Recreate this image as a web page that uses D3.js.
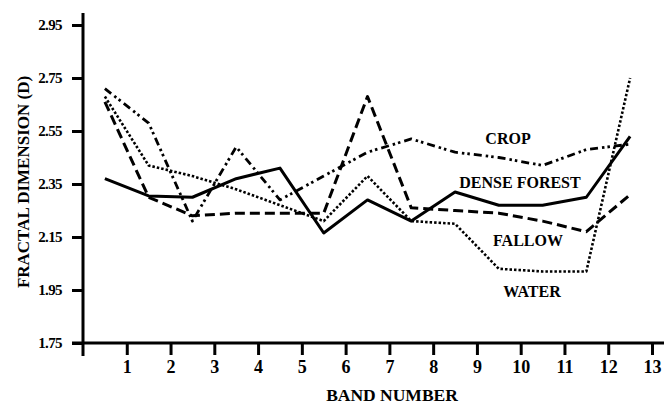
<!DOCTYPE html>
<html lang="en">
    <head>
        <meta charset="utf-8">
        <title>Fractal dimension by band</title>
        <script type="text/javascript" src="https://d3js.org/d3.v7.min.js"></script>
        <style type="text/css">
            body {
                margin: 0;
                background: #fff;
            }
            svg text {
                font-family: 'Liberation Serif', 'Times New Roman', serif;
                font-weight: bold;
                fill: #000;
            }
        </style>
    </head>
    <body>
        <script type="text/javascript">

            // data, points sit at band mid positions
            const bandPos = [0.5, 1.5, 2.5, 3.5, 4.5, 5.5, 6.5, 7.5, 8.5, 9.5, 10.5, 11.5, 12.5];
            const crop = [2.71, 2.58, 2.21, 2.49, 2.29, 2.38, 2.47, 2.52, 2.47, 2.45, 2.42, 2.48, 2.50];
            const denseForest = [2.37, 2.305, 2.30, 2.37, 2.41, 2.165, 2.29, 2.21, 2.32, 2.27, 2.27, 2.30, 2.53];
            const fallow = [2.66, 2.30, 2.23, 2.24, 2.24, 2.24, 2.68, 2.26, 2.25, 2.24, 2.21, 2.17, 2.31];
            const water = [2.68, 2.42, 2.38, 2.33, 2.27, 2.21, 2.38, 2.21, 2.20, 2.03, 2.02, 2.02, 2.75];

            const xTicks = [1, 2, 3, 4, 5, 6, 7, 8, 9, 10, 11, 12, 13];
            const yTicks = [1.75, 1.95, 2.15, 2.35, 2.55, 2.75, 2.95];

            const series = [
                {name: "CROP", values: crop, dash: "8,4,2.5,3,2.5,4", width: 2.8, lx: 508, ly: 144},
                {name: "DENSE FOREST", values: denseForest, dash: null, width: 3, lx: 520, ly: 188},
                {name: "FALLOW", values: fallow, dash: "10,5", width: 3, lx: 528, ly: 246},
                {name: "WATER", values: water, dash: "2.5,2", width: 2.6, lx: 532, ly: 297}
            ];

            const W = 666, H = 404;

            const svg = d3.select("body")
                .append("svg")
                .attr("width", W)
                .attr("height", H);

            const xScale = d3.scaleLinear().domain([0, 13]).range([83, 652]);
            const yScale = d3.scaleLinear().domain([1.75, 2.95]).range([343, 25]);

            // y axis
            const yAxis = d3.axisLeft(yScale)
                .tickValues(yTicks)
                .tickFormat(d3.format(".2f"))
                .tickSize(11)
                .tickSizeOuter(0)
                .tickPadding(10);

            const gy = svg.append("g")
                .attr("transform", "translate(" + xScale(0) + ",0)")
                .call(yAxis)
                .attr("font-family", null)
                .attr("font-size", null);
            gy.select(".domain").remove();
            gy.selectAll(".tick line").attr("stroke", "#000").attr("stroke-width", 3);
            gy.selectAll(".tick text")
                .style("font-size", "15px")
                .style("letter-spacing", "-0.6px");

            svg.append("line")
                .attr("x1", xScale(0)).attr("x2", xScale(0))
                .attr("y1", 13).attr("y2", 356)
                .attr("stroke", "#000").attr("stroke-width", 3);

            // x axis
            const xAxis = d3.axisBottom(xScale)
                .tickValues(xTicks)
                .tickFormat(d3.format("d"))
                .tickSize(12)
                .tickSizeOuter(0)
                .tickPadding(5);

            const gx = svg.append("g")
                .attr("transform", "translate(0," + yScale(1.75) + ")")
                .call(xAxis)
                .attr("font-family", null)
                .attr("font-size", null);
            gx.select(".domain").remove();
            gx.selectAll(".tick line").attr("stroke", "#000").attr("stroke-width", 3);
            gx.selectAll(".tick text")
                .style("font-size", "18px");

            svg.append("line")
                .attr("x1", 72).attr("x2", 664)
                .attr("y1", yScale(1.75)).attr("y2", yScale(1.75))
                .attr("stroke", "#000").attr("stroke-width", 3);

            // axis titles
            svg.append("text")
                .attr("x", 392).attr("y", 401)
                .attr("text-anchor", "middle")
                .style("font-size", "17.5px")
                .text("BAND NUMBER");

            svg.append("text")
                .attr("transform", "translate(29,182) rotate(-90)")
                .attr("text-anchor", "middle")
                .style("font-size", "17px")
                .text("FRACTAL DIMENSION (D)");

            // lines
            const line = d3.line()
                .x((d, i) => xScale(bandPos[i]))
                .y(d => yScale(d));

            svg.selectAll("path.series")
                .data(series)
                .enter()
                .append("path")
                .attr("class", "series")
                .attr("d", d => line(d.values))
                .attr("fill", "none")
                .attr("stroke", "#000")
                .attr("stroke-width", d => d.width)
                .attr("stroke-dasharray", d => d.dash)
                .attr("stroke-linejoin", "round");

            svg.selectAll("text.lab")
                .data(series)
                .enter()
                .append("text")
                .attr("class", "lab")
                .attr("x", d => d.lx)
                .attr("y", d => d.ly)
                .attr("text-anchor", "middle")
                .style("font-size", "16px")
                .text(d => d.name);

        </script>
    </body>
</html>
